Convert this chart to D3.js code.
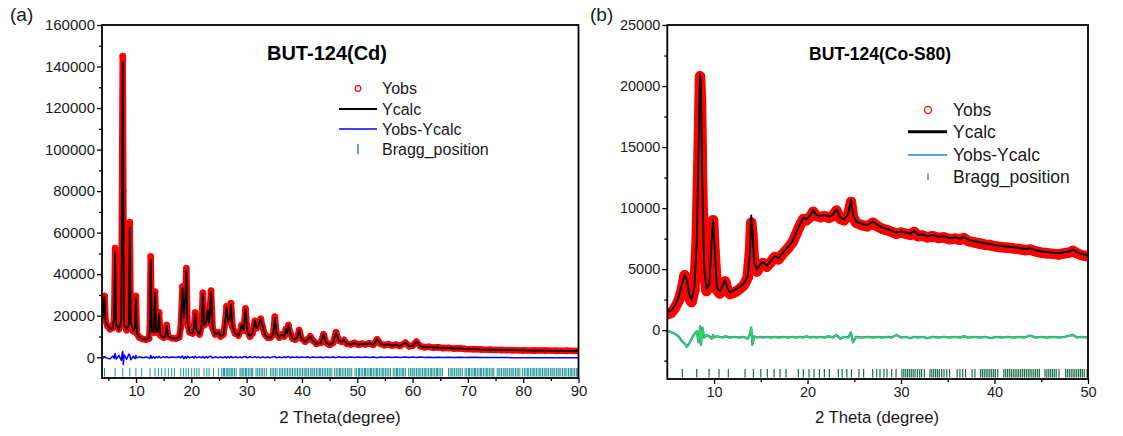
<!DOCTYPE html>
<html>
<head>
<meta charset="utf-8">
<script src="https://cdn.jsdelivr.net/npm/d3@7"></script>
<style>
  body { margin: 0; background: #fff; }
  svg { display: block; }
</style>
</head>
<body>
<svg id="chart" width="1123" height="436"></svg>
<script>
// ---------- Panel (a): BUT-124(Cd) Rietveld profile ----------
const cdTheta = [3.9,4.1,4.3,4.5,4.85,5.3,5.8,6.05,6.22,6.42,6.9,7.35,7.5,7.6,7.7,7.85,8.3,8.7,8.87,9.05,9.5,9.82,9.98,10.15,10.6,11.2,11.8,12.35,12.5,12.66,12.85,13.2,13.44,13.65,13.95,14.16,14.4,15.0,15.3,15.55,15.8,16.5,17.2,17.8,18.1,18.4,18.65,18.9,19.1,19.3,19.7,20.25,20.5,20.7,20.95,21.5,21.85,22.08,22.35,22.7,22.95,23.2,23.57,23.85,24.3,24.9,25.3,25.8,26.1,26.38,26.65,26.95,27.17,27.45,27.9,28.5,28.85,29.1,29.45,29.8,30.1,30.6,31.05,31.5,31.8,32.15,32.55,32.9,33.3,33.8,34.3,34.8,35.1,35.4,35.9,36.4,36.8,37.1,37.3,37.55,37.85,38.3,38.8,39.2,39.5,39.9,40.6,41.0,41.5,42.0,42.6,43.4,43.9,44.4,45.0,45.6,46.15,46.7,47.2,47.6,48.1,48.8,49.5,50.2,50.8,51.5,52.2,52.9,53.6,54.2,54.9,55.6,56.3,57.0,57.7,58.7,59.4,60.0,60.7,61.4,62.2,63.0,63.8,64.6,65.5,66.5,67.5,68.5,69.5,71,72.5,74,76,78,80,82,84,86,88,90];
const cdObs = [19000,21500,29500,17500,15000,13500,14200,18500,52500,15500,13500,17000,96500,145000,80000,16000,13000,16000,65000,16500,12500,14000,29500,11500,9500,8800,8500,9000,14000,48500,12500,12000,31500,12000,12500,21500,10500,9500,10200,15500,10000,9200,9000,9600,14500,34000,18500,28000,42800,16000,12000,11500,14500,21500,12500,11000,15000,31000,15500,17000,23000,16500,32000,14000,11000,12000,10000,11000,16500,24500,17000,18500,26000,14500,11500,10500,12500,15500,13000,23500,12500,10000,11500,17500,14000,15500,18500,14500,11000,9500,9500,11000,19500,11500,9500,11000,10000,13500,11500,15500,12000,9000,8500,10000,13100,9000,7500,8500,10000,8000,6500,7000,11000,7000,6000,6800,12000,8000,7500,8300,6500,6200,6900,6000,6500,6200,6700,6000,8600,6500,5800,6300,5600,6000,5400,7000,5300,5500,7500,5300,4800,5000,4600,4800,4400,4500,4200,4300,4000,3900,3700,3600,3500,3400,3300,3200,3200,3100,3100,3000];
const cdCalc = [18500,21000,29000,17000,15200,13700,14000,19000,50500,16000,13200,18000,94000,142000,83000,15500,13500,15500,62500,17000,12500,14500,28500,11500,9600,8800,8500,9200,14500,47000,12500,12000,31000,12200,12500,21000,10700,9500,10200,15000,10000,9200,9000,9600,14500,33500,19000,28000,42000,16500,12000,11500,14500,21000,12800,11000,15000,30500,15500,17000,22500,16500,31500,14200,11000,12000,10000,11000,16500,24000,17000,18500,25500,14500,11500,10500,12500,15500,13000,23000,12500,10000,11500,17500,14000,15500,18500,14500,11000,9500,9500,11000,19000,11500,9500,11000,10000,13500,11500,15500,12000,9000,8500,10000,13000,9000,7500,8500,10000,8000,6500,7000,11000,7000,6000,6800,12000,8000,7500,8300,6500,6200,6900,6000,6500,6200,6700,6000,8600,6500,5800,6300,5600,6000,5400,7000,5300,5500,7500,5300,4800,5000,4600,4800,4400,4500,4200,4300,4000,3900,3700,3600,3500,3400,3300,3200,3200,3100,3100,3000];
const cdDiff = [400,-300,300,-200,-500,-800,600,-600,1800,-900,900,-1500,2000,2800,-3500,1200,-1000,1500,1000,-1200,500,-700,800,-300,200,-200,100,-300,-600,900,-400,300,-500,300,-200,400,-300,200,-200,300,-200,100,-100,200,-300,600,-700,300,-600,500,-300,200,-400,500,-300,200,-300,400,-400,300,-300,200,500,-400,200,-200,100,-200,300,-400,300,-300,400,-300,200,-200,200,-300,200,400,-300,200,-200,300,-200,200,-300,200,-200,100,-200,200,400,-300,100,-200,200,-200,100,300,-200,100,-100,200,-200,100,-100,200,-200,100,-100,100,-200,100,-100,100,-200,200,-100,100,-100,100,-100,100,-100,100,-100,100,-200,100,-100,100,-100,100,-100,100,-100,100,-100,100,-100,0,-100,0,-100,0,-100,0,-100,0,-100,-100,-100,-200,-200,-200,-300,-300,-300,-300];
const cdBragg = [4.3,6.22,7.6,8.87,9.98,11.03,12.53,13.44,14.04,14.64,15.25,15.85,16.45,16.93,18.09,18.57,19.05,19.47,20.07,20.55,20.99,21.4,22.3,22.8,23.21,24.0,24.9,
  25.5,25.8,26.0,26.3,26.5,26.8,27.0,27.3,27.5,27.8,28.1,28.8,29.0,29.3,29.5,29.8,30.0,30.3,30.6,30.9,31.1,31.7,32.0,32.3,32.6,32.9,33.2,33.6,34.3,34.6,34.9,35.2,35.5,35.9,36.2,36.5,36.8,37.1,37.4,37.7,38.0,38.3,38.6,38.9,39.2,39.5,39.8,
  40.1,40.4,40.7,40.9,41.2,41.5,41.8,42.0,42.3,42.6,42.9,43.2,43.4,43.7,44.0,44.3,44.6,44.9,45.1,45.4,45.9,46.2,46.5,46.8,47.0,47.3,47.6,47.9,48.2,48.5,48.7,49.0,49.6,49.9,50.2,50.4,50.7,51.0,51.3,51.5,51.8,52.1,52.4,52.6,52.9,53.2,53.5,53.7,54.0,54.3,54.6,54.8,55.1,55.4,55.7,56.0,56.5,56.8,57.1,57.3,57.6,57.9,58.2,58.4,58.7,59.3,59.6,59.9,60.1,60.4,60.7,61.0,61.2,61.5,61.8,62.1,62.3,62.6,62.9,63.2,63.4,63.7,64.0,64.3,64.5,64.8,65.1,65.4,66.5,66.8,67.1,67.3,67.6,67.9,68.2,68.4,68.7,69.0,69.5,69.8,70.1,70.3,70.6,70.9,71.2,71.4,71.7,72.0,72.3,72.5,72.8,73.1,73.4,73.6,73.9,74.2,74.5,74.7,75.3,75.6,75.8,76.1,76.4,76.7,76.9,77.2,77.5,77.8,78.0,78.3,78.6,78.9,79.1,79.4,79.9,80.2,80.5,80.8,81.0,81.3,81.6,81.9,82.1,82.4,82.7,83.0,83.2,83.5,83.8,84.1,84.3,84.6,84.9,85.2,85.4,85.7,86.0,86.3,86.5,86.8,87.1,87.4,87.6,87.9,88.2,88.5,88.7,89.0,89.3,89.6,89.8];
const cdXTicks = [10,20,30,40,50,60,70,80,90];
const cdXMinor = [5,15,25,35,45,55,65,75,85];
const cdYTicks = [0,20000,40000,60000,80000,100000,120000,140000,160000];
const cdYMinor = [10000,30000,50000,70000,90000,110000,130000,150000];

// ---------- Panel (b): BUT-124(Co-S80) Rietveld profile ----------
const coTheta = [5.0,5.4,5.8,6.2,6.55,6.85,7.1,7.35,7.6,7.9,8.15,8.35,8.5,8.6,8.75,8.95,9.2,9.5,9.75,9.9,10.05,10.3,10.6,10.95,11.2,11.45,11.7,12.2,12.7,13.2,13.6,13.85,13.98,14.1,14.3,14.6,14.95,15.25,15.65,16.1,16.5,16.9,17.4,17.9,18.4,18.8,19.2,19.55,19.9,20.3,20.6,20.95,21.4,21.8,22.3,22.7,23.1,23.5,23.9,24.35,24.65,24.85,25.2,25.8,26.4,27.0,27.5,28.0,28.5,29.0,29.5,30.0,30.5,31.0,31.4,31.8,32.3,32.8,33.4,34.0,34.6,35.2,35.8,36.3,36.7,37.2,37.8,38.4,39.0,39.6,40.2,40.8,41.4,42.0,42.6,43.2,43.8,44.4,45.0,45.6,46.3,46.9,47.5,48.0,48.4,48.8,49.3,50.0];
const coObs = [1300,1400,1800,2400,3300,4500,4200,2600,2300,3300,7500,14500,20800,19000,11000,4800,3200,3600,7200,9000,6500,3300,3000,3500,4000,3200,2950,3100,3350,3700,4300,6500,8800,7800,5300,4800,5300,5500,5200,5600,6000,5800,6300,6700,7200,7900,8600,9100,9000,9300,9700,9350,9250,9350,9200,9350,9800,9100,9000,9400,10500,9300,8800,8600,8500,8800,8500,8300,8200,8050,7900,8000,7900,7800,8050,7700,7750,7600,7700,7550,7600,7450,7500,7400,7550,7300,7200,7100,7000,6950,6850,6800,6750,6700,6650,6550,6600,6450,6350,6300,6250,6200,6300,6350,6500,6300,6150,6050];
const coCalc = [1500,1600,2000,2700,3700,4500,4100,2900,2500,3500,7200,15000,21000,20000,12000,5000,3400,3800,7500,9000,7000,3500,3200,3700,4100,3400,3100,3300,3500,3850,4400,6500,9400,8200,5500,5000,5400,5600,5300,5700,6100,5900,6400,6800,7300,8000,8700,9200,9100,9400,9800,9450,9350,9450,9300,9450,9900,9200,9100,9500,10700,9500,8900,8700,8600,8900,8600,8400,8300,8150,8000,8100,8000,7900,8150,7800,7850,7700,7800,7650,7700,7550,7600,7500,7650,7400,7300,7200,7100,7050,6950,6900,6850,6800,6750,6650,6700,6550,6450,6400,6350,6300,6400,6450,6600,6400,6250,6150];
const coDiff = [-50,-150,-300,-500,-900,-1100,-1350,-1100,-700,-300,-100,-1000,300,-1200,200,-600,-400,-500,-700,-400,-600,-500,-550,-600,-500,-550,-600,-550,-600,-550,-700,-300,200,-1200,-500,-600,-550,-600,-550,-600,-550,-600,-550,-600,-550,-600,-550,-600,-500,-600,-550,-600,-550,-600,-500,-600,-400,-700,-550,-600,-200,-1000,-550,-600,-550,-600,-550,-600,-550,-600,-400,-600,-550,-650,-550,-600,-550,-650,-550,-600,-550,-600,-550,-600,-500,-600,-550,-600,-550,-650,-550,-600,-550,-600,-550,-600,-450,-600,-550,-600,-550,-600,-550,-450,-400,-600,-550,-600];
const coBragg = [6.61,8.15,9.47,10.53,11.53,13.32,14.21,15.0,15.7,16.42,17.06,17.7,19.02,19.55,20.16,20.7,21.27,21.8,22.34,23.3,23.7,24.2,24.7,25.5,26.0,26.97,27.4,27.75,28.18,28.5,29.0,29.47,
  30.1,30.3,30.5,30.7,30.9,31.1,31.3,31.5,31.75,32.0,32.2,32.5,33.1,33.3,33.5,33.7,33.9,34.1,34.35,34.6,34.9,35.2,36.0,36.3,36.6,36.9,37.6,37.9,
  38.5,38.7,38.9,39.1,39.3,39.5,39.7,39.9,40.1,40.35,41.0,41.2,41.4,41.6,41.8,42.0,42.2,42.4,42.6,42.8,43.0,43.2,43.4,43.6,43.8,44.0,44.2,44.4,44.6,44.8,
  45.4,45.6,45.8,46.0,46.2,46.4,46.6,46.9,47.6,47.8,48.0,48.2,48.4,48.6,48.8,49.0,49.2,49.4,49.6,49.9];
const coXTicks = [10,20,30,40,50];
const coXMinor = [15,25,35,45];
const coYTicks = [0,5000,10000,15000,20000,25000];
const coYMinor = [-2500,2500,7500,12500,17500,22500];

const legendLabels = ["Yobs", "Ycalc", "Yobs-Ycalc", "Bragg_position"];

const FONT = '"Liberation Sans", Arial, Helvetica, sans-serif';
const svg = d3.select("#chart");

function drawPanel(p) {
  const g = svg.append("g");
  const x = d3.scaleLinear().domain(p.xDomain).range([p.left, p.right]);
  const y = d3.scaleLinear().domain(p.yDomain).range([p.bottom, p.top]);
  const idx = d3.range(p.theta.length);

  const clipId = p.id + "-clip";
  svg.append("clipPath").attr("id", clipId).append("rect")
    .attr("x", p.left).attr("y", p.top)
    .attr("width", p.right - p.left).attr("height", p.bottom - p.top);
  const plot = g.append("g").attr("clip-path", `url(#${clipId})`);

  // Bragg reflection markers
  plot.append("g").selectAll("line").data(p.bragg).join("line")
    .attr("x1", d => x(d)).attr("x2", d => x(d))
    .attr("y1", p.bottom - p.braggHigh).attr("y2", p.bottom - p.braggLow)
    .attr("stroke", p.braggColor).attr("stroke-width", p.braggWidth);

  // Difference curve
  const diffLine = d3.line().x(i => x(p.theta[i])).y(i => y(p.diff[i]));
  p.diffColors.forEach((c, k) => {
    plot.append("path").datum(idx).attr("d", diffLine)
      .attr("fill", "none").attr("stroke", c).attr("stroke-width", p.diffWidths[k])
      .attr("stroke-linejoin", "round");
  });

  // Observed intensities: dense open markers
  const obsLine = d3.line().x(i => x(p.theta[i])).y(i => y(p.obs[i]));
  plot.append("path").datum(idx).attr("d", obsLine)
    .attr("fill", "none").attr("stroke", "#ff0000").attr("stroke-width", p.band)
    .attr("stroke-linejoin", "round").attr("stroke-linecap", "round");
  plot.append("g").selectAll("circle").data(idx).join("circle")
    .attr("cx", i => x(p.theta[i])).attr("cy", i => y(p.obs[i])).attr("r", p.r)
    .attr("fill", "none").attr("stroke", "#ff0000").attr("stroke-width", 1);

  // Calculated profile
  const calcLine = d3.line().x(i => x(p.theta[i])).y(i => y(p.calc[i]));
  plot.append("path").datum(idx).attr("d", calcLine)
    .attr("fill", "none").attr("stroke", "#000").attr("stroke-width", p.calcWidth)
    .attr("stroke-linejoin", "round");

  // Axes
  const styleAxis = a => {
    a.select(".domain").remove();
    a.selectAll("line").attr("stroke", "#000").attr("stroke-width", 1.3);
    a.selectAll("text").attr("font-family", FONT).attr("font-size", p.tickFont).attr("fill", "#1a1a1a");
  };
  g.append("g").attr("transform", `translate(0,${p.bottom})`)
    .call(d3.axisBottom(x).tickValues(p.xTicks).tickFormat(d3.format("d")).tickSize(5).tickPadding(2.5))
    .call(styleAxis);
  g.append("g").attr("transform", `translate(0,${p.bottom})`)
    .call(d3.axisBottom(x).tickValues(p.xMinor).tickFormat("").tickSize(3))
    .call(styleAxis);
  g.append("g").attr("transform", `translate(${p.left},0)`)
    .call(d3.axisLeft(y).tickValues(p.yTicks).tickFormat(d3.format("d")).tickSize(5).tickPadding(p.yPad))
    .call(styleAxis);
  g.append("g").attr("transform", `translate(${p.left},0)`)
    .call(d3.axisLeft(y).tickValues(p.yMinor).tickFormat("").tickSize(3))
    .call(styleAxis);

  // Frame
  g.append("rect").attr("x", p.left).attr("y", p.top)
    .attr("width", p.right - p.left).attr("height", p.bottom - p.top)
    .attr("fill", "none").attr("stroke", "#000").attr("stroke-width", 1.8);

  // Titles
  g.append("text").attr("x", p.titleX).attr("y", p.titleY).attr("text-anchor", "middle")
    .attr("font-family", FONT).attr("font-weight", "bold").attr("font-size", p.titleFont)
    .text(p.title);
  g.append("text").attr("x", p.xTitleX).attr("y", 423).attr("text-anchor", "middle")
    .attr("font-family", FONT).attr("font-size", p.xTitleFont).attr("fill", "#1a1a1a")
    .text(p.xTitle);
  g.append("text").attr("x", p.tagX).attr("y", 21)
    .attr("font-family", FONT).attr("font-size", 19).attr("fill", "#1a1a1a")
    .text(p.tag);

  // Legend
  const L = p.legend;
  const lg = g.append("g");
  lg.append("circle").attr("cx", L.mx).attr("cy", L.rows[0]).attr("r", L.r)
    .attr("fill", "none").attr("stroke", "#ff0000").attr("stroke-width", 1.2);
  lg.append("line").attr("x1", L.x1).attr("x2", L.x2).attr("y1", L.rows[1]).attr("y2", L.rows[1])
    .attr("stroke", "#000").attr("stroke-width", L.calcWidth);
  lg.append("line").attr("x1", L.x1).attr("x2", L.x2).attr("y1", L.rows[2]).attr("y2", L.rows[2])
    .attr("stroke", p.diffColors[0]).attr("stroke-width", 1.5);
  lg.append("line").attr("x1", L.mx).attr("x2", L.mx)
    .attr("y1", L.rows[3] - L.tick / 2).attr("y2", L.rows[3] + L.tick / 2)
    .attr("stroke", p.braggLegendColor).attr("stroke-width", 1.5);
  lg.selectAll("text").data(legendLabels).join("text")
    .attr("x", L.tx).attr("y", (d, i) => L.rows[i]).attr("dy", "0.35em")
    .attr("font-family", FONT).attr("font-size", L.font).attr("fill", "#1a1a1a")
    .text(d => d);
}

drawPanel({
  id: "cd", left: 102, right: 578.5, top: 25, bottom: 378,
  xDomain: [3.85, 90], yDomain: [-10000, 160000],
  xTicks: cdXTicks, xMinor: cdXMinor, yTicks: cdYTicks, yMinor: cdYMinor,
  theta: cdTheta, obs: cdObs, calc: cdCalc, diff: cdDiff, bragg: cdBragg,
  braggColor: "#1f9797", braggLegendColor: "#1f9f9f", braggWidth: 1, braggHigh: 10, braggLow: 1.5,
  diffColors: ["#0000ff"], diffWidths: [1.5],
  band: 6.5, r: 3, calcWidth: 1.8,
  tickFont: 15, yPad: 2,
  title: "BUT-124(Cd)", titleX: 327, titleY: 60, titleFont: 20,
  xTitle: "2 Theta(degree)", xTitleX: 340, xTitleFont: 17,
  tag: "(a)", tagX: 10,
  legend: { mx: 358, x1: 339, x2: 377, tx: 382, rows: [88.5, 109, 129, 149], r: 2.8, tick: 10, font: 16, calcWidth: 1.8 }
});

drawPanel({
  id: "co", left: 667.3, right: 1088, top: 25, bottom: 379,
  xDomain: [5, 50], yDomain: [-4000, 25000],
  xTicks: coXTicks, xMinor: coXMinor, yTicks: coYTicks, yMinor: coYMinor,
  theta: coTheta, obs: coObs, calc: coCalc, diff: coDiff, bragg: coBragg,
  braggColor: "#1b6b4a", braggLegendColor: "#5a9a7a", braggWidth: 1.2, braggHigh: 10, braggLow: 1.5,
  diffColors: ["#2a7fdc", "#33dd44"], diffWidths: [2.4, 1.4],
  band: 10.5, r: 4.5, calcWidth: 1.9,
  tickFont: 14.5, yPad: 2,
  title: "BUT-124(Co-S80)", titleX: 880, titleY: 60, titleFont: 17.5,
  xTitle: "2 Theta (degree)", xTitleX: 877, xTitleFont: 16.7,
  tag: "(b)", tagX: 590,
  legend: { mx: 928, x1: 908, x2: 947, tx: 953, rows: [110, 131.7, 155, 176.7], r: 3.6, tick: 7, font: 17.5, calcWidth: 3 }
});
</script>
</body>
</html>
